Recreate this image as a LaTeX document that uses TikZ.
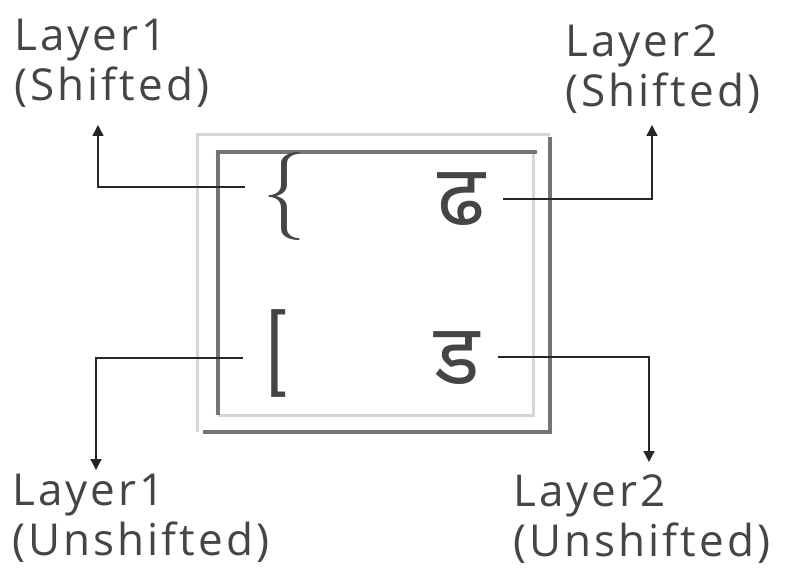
\documentclass[tikz,border=0pt]{standalone}
\usepackage{fontspec}
\setmainfont{Open Sans}[LetterSpace=7]
\newfontfamily\devfont[Script=Devanagari]{Noto Sans}
\usetikzlibrary{arrows.meta, positioning}
\definecolor{inkgray}{HTML}{454545}
\definecolor{framedark}{HTML}{7A7272}
\definecolor{framelight}{HTML}{D6D4D6}
\tikzset{
  layertext/.style={
    anchor=north west,
    inner sep=0pt,
    align=left,
    text=inkgray,
    font=\fontsize{44}{50}\selectfont,
  },
  keychar/.style={
    inner sep=0pt,
    text=inkgray,
    font=\fontsize{88}{88}\sffamily,
  },
  devchar/.style={
    keychar,
    font=\fontsize{85}{85}\devfont,
  },
  darkedge/.style={
    draw=framedark,
    line width=4pt
  },
  lightedge/.style={
    draw=framelight,
    line width=3pt
  },
  conn/.style={
    -{Triangle[width=11pt,length=11pt]},
    line width=1.4pt,
    draw=black!85
  }
}

\begin{document}
\begin{tikzpicture}[x=1pt, y=-1pt]
  \useasboundingbox (0,0) rectangle (795,585);

  % Touche
  \draw[lightedge] (197,432) -- (197,135) -- (550,135);
  \draw[darkedge] (550,137) -- (550,432) -- (203,432);
  \draw[lightedge] (533,152) -- (533,415) -- (218,415);
  \draw[darkedge] (218,415) -- (218,152) -- (537,152);

  % Caracteres
  \node[keychar] (brace) at (284,197) {\{};
  \node[devchar] (dha) at (461,199) {ढ};
  \node[keychar] (bracket) at (276,353) {[};
  \node[devchar] (da) at (457,358) {ड};

  % Etiquettes
  \node[layertext] (l1s) at (14,19) {Layer1\\(Shifted)};
  \node[layertext] (l2s) at (565,24) {Layer2\\(Shifted)};
  \node[layertext] (l1u) at (12,474) {Layer1\\(Unshifted)};
  \node[layertext] (l2u) at (513,474) {Layer2\\(Unshifted)};

  % Pointes
  \coordinate (t1s) at (98,125);
  \coordinate (t2s) at (652,125);
  \coordinate (t1u) at (96,470);
  \coordinate (t2u) at (649,462);

  % Fleches
  \draw[conn] ([xshift=-17pt, yshift=10pt]brace.west) -| (t1s);
  \draw[conn] ([xshift=18pt]dha.east) -| (t2s);
  \draw[conn] ([xshift=-21pt, yshift=-5pt]bracket.west) -| (t1u);
  \draw[conn] ([xshift=18pt, yshift=1pt]da.east) -| (t2u);
\end{tikzpicture}
\end{document}
